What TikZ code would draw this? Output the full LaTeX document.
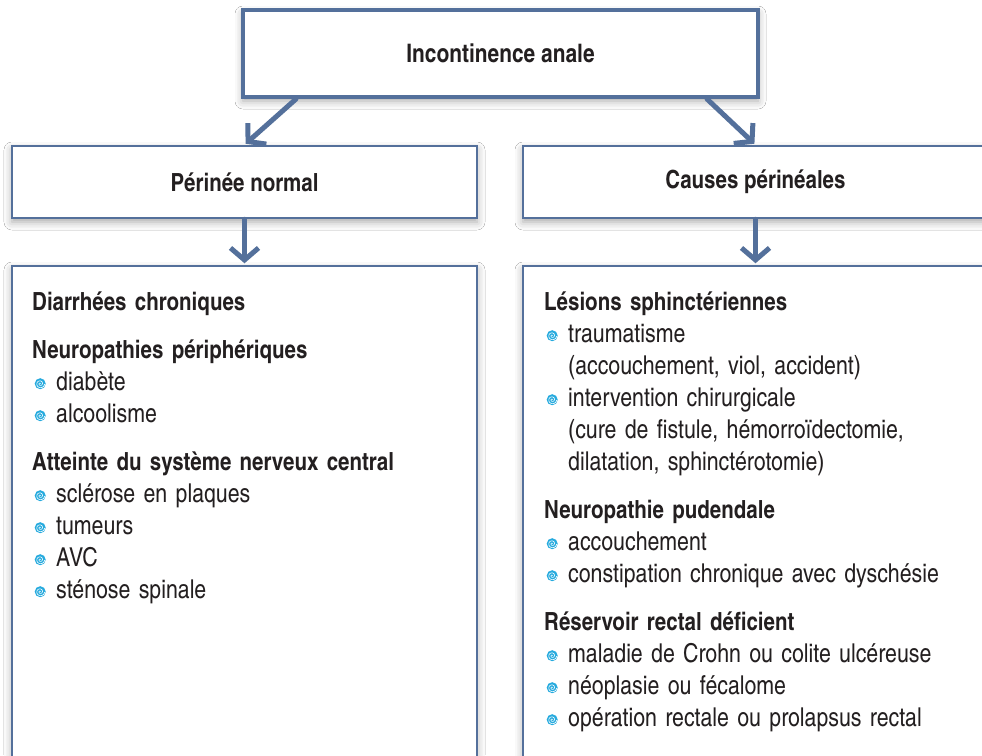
\documentclass[tikz,border=0pt]{standalone}
\usepackage{fontspec}
\setmainfont{texgyreheroscn-regular.otf}[BoldFont=texgyreheroscn-bold.otf]
\usetikzlibrary{arrows.meta,shadows.blur}

\definecolor{boxblue}{RGB}{84,112,155}
\definecolor{spircyan}{RGB}{38,170,222}
\definecolor{inkdark}{RGB}{35,31,32}

% small spiral bullet
\newcommand{\spir}{\tikz[baseline=-6.5pt]{\fill[spircyan] (0pt,0pt) circle (5.5pt);
  \draw[white,line width=0.6pt,x=1pt,y=1pt] plot[domain=0:12.5,samples=40,smooth] ({0.36*\x*cos(\x r)},{0.36*\x*sin(\x r)});}}
\newcommand{\itm}[1]{\makebox[24pt][l]{\hspace{2.5pt}\spir}{\fontsize{26}{32}\selectfont #1}}
\newcommand{\cnt}[1]{\hspace*{24pt}{\fontsize{26}{32}\selectfont #1}}

\begin{document}
\begin{tikzpicture}[x=1pt,y=-1pt,
    blbox/.style={draw=boxblue,fill=white,line width=2.5pt,inner sep=0pt,
      blur shadow={shadow xshift=0pt,shadow yshift=-4pt,shadow blur radius=8pt,shadow opacity=35}},
    txt/.style={inner sep=0pt,align=left,text width=430pt,text=inkdark,
      font=\fontsize{25}{32}\selectfont},
    arr/.style={-{Straight Barb[length=12pt,width=28pt]},line width=5pt,boxblue,line cap=round,shorten >=1.5pt}]
  \useasboundingbox (0,0) rectangle (982,755);
  \fill[white] (0,0) rectangle (982,755);

  \node[blbox,line width=4pt,minimum width=515pt,minimum height=87pt,text=inkdark,
    font=\fontsize{25.5}{30}\selectfont\bfseries] (top) at (500.5,53.5) {Incontinence anale};
  \node[blbox,minimum width=465pt,minimum height=72pt,text=inkdark,
    font=\fontsize{25}{30}\selectfont\bfseries] (peri) at (244.5,182) {Périnée normal};
  \node[blbox,minimum width=465pt,minimum height=72pt,text=inkdark,
    font=\fontsize{25}{30}\selectfont\bfseries] (caus) at (755.5,182) {Causes périnéales};
  \node[blbox,minimum width=465pt,minimum height=520pt] (leftbox) at (244.5,526) {};
  \node[blbox,minimum width=465pt,minimum height=520pt] (rightbox) at (755.5,526) {};

  \draw[arr] ([xshift=55pt]top.south west) -- (peri.north);
  \draw[arr] ([xshift=-53pt]top.south east) -- (caus.north);
  \draw[arr] (peri.south) -- (leftbox.north);
  \draw[arr] (caus.south) -- (rightbox.north);

  \node[txt,anchor=north west] (lefttxt) at (32,287.6) {\strut\textbf{Diarrhées chroniques}\\[16pt]
    \textbf{Neuropathies périphériques}\\
    \itm{diabète}\\
    \itm{alcoolisme}\\[16pt]
    \textbf{Atteinte du système nerveux central}\\
    \itm{sclérose en plaques}\\
    \itm{tumeurs}\\
    \itm{AVC}\\
    \itm{sténose spinale}};
  \node[txt,anchor=north west] (righttxt) at (544,287.6) {\strut\textbf{Lésions sphinctériennes}\\
    \itm{traumatisme}\\
    \cnt{(accouchement, viol, accident)}\\
    \itm{intervention chirurgicale}\\
    \cnt{(cure de fistule, hémorroïdectomie,}\\
    \cnt{dilatation, sphinctérotomie)}\\[16pt]
    \textbf{Neuropathie pudendale}\\
    \itm{accouchement}\\
    \itm{constipation chronique avec dyschésie}\\[16pt]
    \textbf{Réservoir rectal déficient}\\
    \itm{maladie de Crohn ou colite ulcéreuse}\\
    \itm{néoplasie ou fécalome}\\
    \itm{opération rectale ou prolapsus rectal}};
\end{tikzpicture}
\end{document}
